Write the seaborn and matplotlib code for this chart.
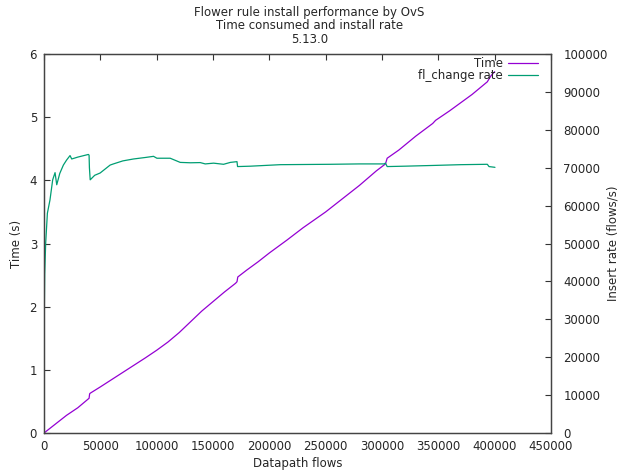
import numpy as np
import pandas as pd
import matplotlib
matplotlib.use("Agg")
import matplotlib.pyplot as plt
import seaborn as sns

# time consumed (s) vs datapath flows
time_flows = [0, 10000, 20000, 30000, 38000, 40000, 40500, 41000, 50000, 60000,
              70000, 80000, 90000, 100000, 110000, 120000, 130000, 140000, 150000,
              160000, 170000, 171300, 172000, 180000, 190000, 200000, 215700, 230000,
              250000, 260000, 280000, 295000, 303100, 304600, 315000, 330000, 345000,
              347600, 360000, 380000, 393500, 396500, 400000]
time_secs = [0.0, 0.14, 0.28, 0.40, 0.52, 0.55, 0.62, 0.63, 0.73, 0.845,
             0.96, 1.075, 1.19, 1.31, 1.44, 1.59, 1.76, 1.93, 2.08,
             2.23, 2.37, 2.395, 2.47, 2.58, 2.71, 2.85, 3.055, 3.25,
             3.50, 3.64, 3.92, 4.15, 4.26, 4.35, 4.48, 4.70, 4.90,
             4.95, 5.10, 5.36, 5.56, 5.65, 5.72]

# fl_change rate (flows/s) vs datapath flows
rate_flows = [0, 200, 600, 1500, 3000, 5300, 7700, 9800, 11300, 14000, 17200, 20000,
              23100, 24600, 30000, 39400, 40000, 40300, 41000, 45000, 49800, 58700,
              61600, 70000, 79400, 90000, 97200, 100200, 112000, 120900, 130000,
              138700, 143100, 150500, 159400, 165400, 171300, 171800, 183100, 209800,
              254200, 280000, 301600, 303100, 304600, 320000, 346000, 370000, 393500,
              395000, 400300]
rate_vals = [18750, 30000, 42000, 50200, 58000, 61500, 66800, 68700, 65500, 68500, 70700, 72000,
             73200, 72300, 72800, 73500, 73300, 70000, 66800, 68000, 68600, 70700,
             71000, 71800, 72300, 72700, 73000, 72500, 72500, 71400, 71300,
             71350, 71000, 71200, 70900, 71400, 71600, 70300, 70400, 70800,
             70900, 71000, 71000, 71200, 70300, 70400, 70600, 70800, 70900,
             70300, 70100]

time_df = pd.DataFrame({"flows": time_flows, "secs": time_secs})
rate_df = pd.DataFrame({"flows": rate_flows, "rate": rate_vals})

sns.set_style("white")
plt.rcParams["font.family"] = ["DejaVu Sans"]
FS = 8.5

fig = plt.figure(figsize=(6.19, 4.70), dpi=100)
ax = fig.add_axes([0.0711, 0.0787, 0.8190, 0.8064])
ax2 = ax.twinx()

sns.lineplot(data=time_df, x="flows", y="secs", ax=ax, color="#9400d3",
             linewidth=0.9, label="Time", legend=False)
sns.lineplot(data=rate_df, x="flows", y="rate", ax=ax2, color="#009e73",
             linewidth=0.9, label="fl_change rate", legend=False)

ax.set_xlim(0, 450000)
ax.set_ylim(0, 6)
ax2.set_ylim(0, 100000)
ax.set_xticks(np.arange(0, 450001, 50000))
ax.set_yticks(np.arange(0, 7, 1))
ax2.set_yticks(np.arange(0, 100001, 10000))
ax.ticklabel_format(style="plain", axis="x")
ax2.ticklabel_format(style="plain", axis="y")

ax.tick_params(direction="in", length=4, width=0.8, labelsize=FS, top=True,
               color="#333333", pad=5)
ax.tick_params(axis="y", right=False)
ax2.tick_params(direction="in", length=4, width=0.8, labelsize=FS,
                color="#333333", pad=9)

for a in (ax, ax2):
    for s in a.spines.values():
        s.set_color("#444444")
        s.set_linewidth(0.9)

ax.set_xlabel("Datapath flows", fontsize=FS)
ax.set_ylabel("Time (s)", fontsize=FS)
ax2.set_ylabel("Insert rate (flows/s)", fontsize=FS)
ax.xaxis.set_label_coords(0.5, -0.062)
ax.yaxis.set_label_coords(-0.041, 0.5)
ax2.yaxis.set_label_coords(1.110, 0.5)

fig.text(0.5, 0.988, "Flower rule install performance by OvS\nTime consumed and install rate\n5.13.0",
         ha="center", va="top", fontsize=FS, linespacing=1.05)

h1, l1 = ax.get_legend_handles_labels()
h2, l2 = ax2.get_legend_handles_labels()
ax2.legend(h1 + h2, l1 + l2, loc="upper right", frameon=False,
           markerfirst=False, fontsize=FS, handlelength=2.5,
           borderaxespad=0.0, borderpad=0.25, labelspacing=-0.05,
           handletextpad=0.45, bbox_to_anchor=(0.98, 1.0))

fig.savefig("out.png", dpi=100)
